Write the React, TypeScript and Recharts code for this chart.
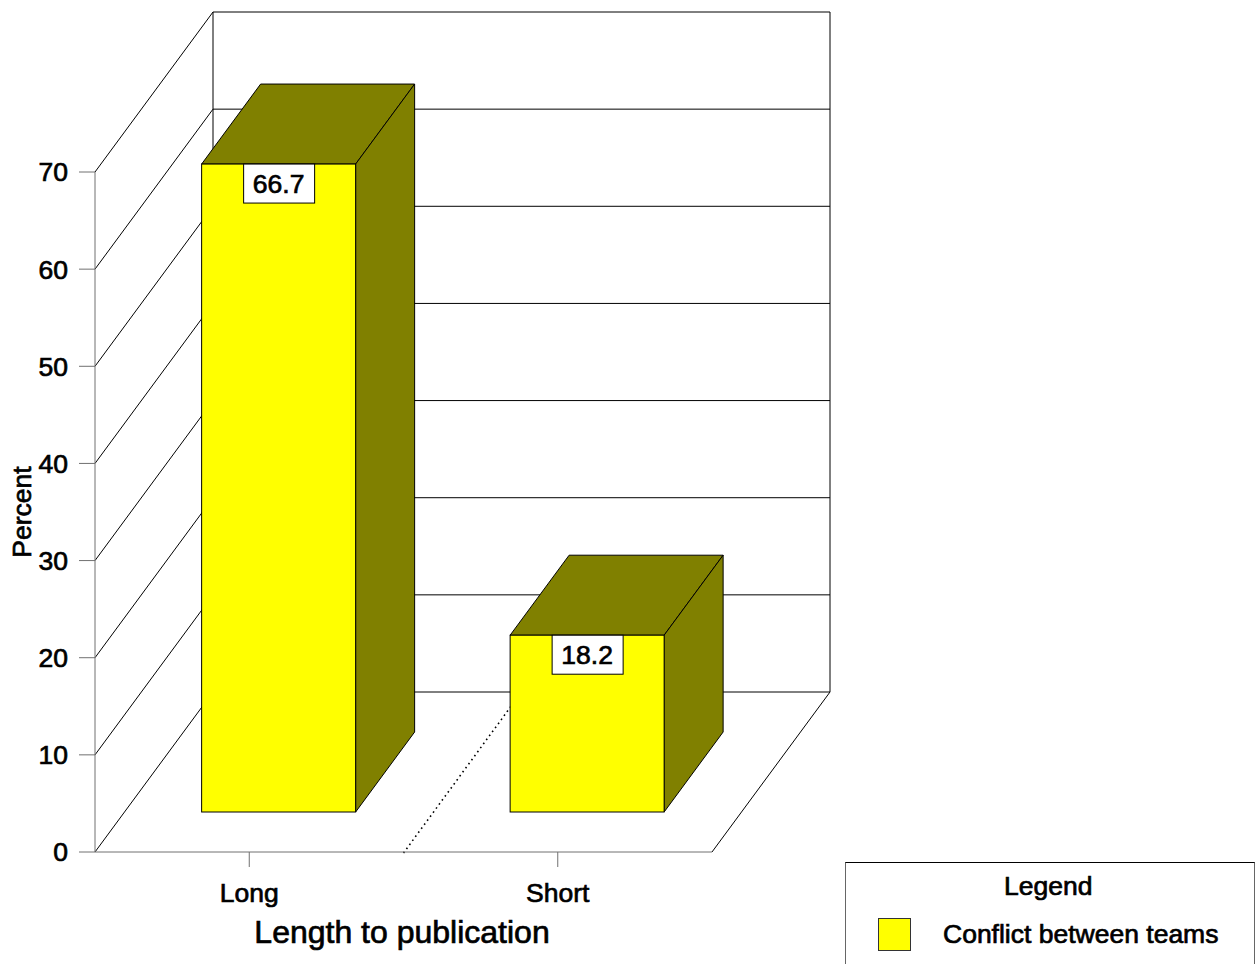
import { BarChart, Bar, XAxis, YAxis, CartesianGrid, Legend, LabelList, Label } from 'recharts'

const categories = ['Long', 'Short']
const conflictValues = [66.7, 18.2]
const yTicks = [0, 10, 20, 30, 40, 50, 60, 70]
const seriesName = 'Conflict between teams'

const chartData = categories.map((name, i) => ({ name, conflict: conflictValues[i] }))

const FONT = '"Liberation Sans", Arial, sans-serif'
// how far the floor and walls recede, in px
const DEPTH_X = 118
const DEPTH_Y = 160
const textStyle = { fill: '#000', stroke: '#000', strokeWidth: 0.7, fontFamily: FONT }

// Side wall diagonal plus the matching line on the back wall
const WallLine = ({ x1, x2, y1 }: any) => (
    <g>
        <path
            d={`M${x1},${y1} L${x1 + DEPTH_X},${y1 - DEPTH_Y} L${x2 + DEPTH_X},${y1 - DEPTH_Y}`}
            fill="none"
            stroke="#000"
            strokeWidth={1}
        />
    </g>
)

// Back wall uprights, right floor edge and the dotted category divider
const makeDepthLine = (left: number, right: number) => ({ x1, y1, y2 }: any) => {
    if (x1 === left || x1 === right) {
        return (
            <g>
                <line x1={x1 + DEPTH_X} x2={x1 + DEPTH_X} y1={y1 - DEPTH_Y} y2={y2 - DEPTH_Y} stroke="#000" />
                {x1 === right && (
                    <line x1={x1} y1={y2} x2={x1 + DEPTH_X} y2={y2 - DEPTH_Y} stroke="#000" />
                )}
            </g>
        )
    }
    return (
        <line
            x1={x1}
            y1={y2 + 1}
            x2={x1 + DEPTH_X}
            y2={y2 - DEPTH_Y}
            stroke="#000"
            strokeWidth={1.6}
            strokeDasharray="1.6 3.4"
        />
    )
}

const Box3D = ({ x, y, width, height, fill }: any) => {
    const fx = x + DEPTH_X / 4
    const fy = y - DEPTH_Y / 4
    const dx = DEPTH_X / 2
    const dy = DEPTH_Y / 2
    const shade = '#808000'
    return (
        <g stroke="#000" strokeWidth={1} strokeLinejoin="miter">
            <polygon
                points={`${fx},${fy} ${fx + dx},${fy - dy} ${fx + width + dx},${fy - dy} ${fx + width},${fy}`}
                fill={shade}
            />
            <polygon
                points={`${fx + width},${fy} ${fx + width + dx},${fy - dy} ${fx + width + dx},${fy + height - dy} ${fx + width},${fy + height}`}
                fill={shade}
            />
            <rect x={fx} y={fy} width={width} height={height} fill={fill} />
        </g>
    )
}

const ValueTag = ({ x, y, width, value }: any) => {
    const cx = x + width / 2 + DEPTH_X / 4
    const top = y - DEPTH_Y / 4
    return (
        <g>
            <rect x={cx - 35} y={top} width={71} height={39} fill="#fff" stroke="#000" strokeWidth={1} />
            <text x={cx} y={top + 29} textAnchor="middle" fontSize={26.5} {...textStyle}>
                {value}
            </text>
        </g>
    )
}

const LegendBox = ({ payload }: any) => (
    <div
        style={{
            boxSizing: 'border-box',
            width: 410,
            height: 102,
            borderTop: '1px solid #000',
            borderLeft: '1.5px solid #666',
            borderRight: '1.5px solid #666',
            fontFamily: FONT,
            color: '#000',
            WebkitTextStroke: '0.7px #000',
            fontSize: 26.5,
            position: 'relative',
        }}
    >
        <div style={{ position: 'absolute', left: 158, top: 8, lineHeight: '30px' }}>Legend</div>
        {(payload || []).map((entry: any) => (
            <div key={entry.value}>
                <div
                    style={{
                        position: 'absolute',
                        left: 32,
                        top: 55,
                        width: 33,
                        height: 33,
                        boxSizing: 'border-box',
                        background: entry.color,
                        border: '1px solid #333',
                    }}
                />
                <div style={{ position: 'absolute', left: 97, top: 56, lineHeight: '30px', whiteSpace: 'nowrap' }}>
                    {entry.value}
                </div>
            </div>
        ))}
    </div>
)

export default function App() {
    const width = 1255
    const height = 964
    const margin = { top: 172, right: 543, bottom: 0, left: 0 }
    const plotLeft = 95
    const plotRight = width - margin.right

    return (
        <div style={{ position: 'absolute', left: 0, top: 0, width, height, overflow: 'hidden', background: '#fff' }}>
            <BarChart width={width} height={height} data={chartData} margin={margin} barCategoryGap="25%">
                <CartesianGrid
                    horizontal={(props: any) => <WallLine {...props} />}
                    vertical={makeDepthLine(plotLeft, plotRight)}
                    verticalCoordinatesGenerator={({ offset }: any) => [
                        offset.left,
                        offset.left + offset.width / 2,
                        offset.left + offset.width,
                    ]}
                />
                <XAxis
                    dataKey="name"
                    height={112}
                    tickSize={15}
                    tickMargin={16}
                    stroke="#707070"
                    tick={{ ...textStyle, fontSize: 26.5 }}
                >
                    <Label
                        value="Length to publication"
                        position="insideBottom"
                        offset={21}
                        dx={-1.5}
                        fontSize={32}
                        style={textStyle}
                    />
                </XAxis>
                <YAxis
                    width={plotLeft}
                    domain={[0, 70]}
                    ticks={yTicks}
                    interval={0}
                    tickSize={16}
                    tickMargin={11}
                    stroke="#707070"
                    tick={{ ...textStyle, fontSize: 26.5 }}
                >
                    <Label
                        value="Percent"
                        angle={-90}
                        position="insideLeft"
                        offset={22}
                        fontSize={26.5}
                        style={{ ...textStyle, textAnchor: 'middle' }}
                    />
                </YAxis>
                {/* zero-height wrapper so the legend takes no room from the plot */}
                <Legend
                    content={<LegendBox />}
                    wrapperStyle={{ position: 'absolute', left: 845, top: 862, width: 410, height: 0, bottom: 'auto' }}
                />
                <Bar
                    dataKey="conflict"
                    name={seriesName}
                    fill="#ffff00"
                    shape={<Box3D />}
                    isAnimationActive={false}
                >
                    <LabelList dataKey="conflict" content={<ValueTag />} />
                </Bar>
            </BarChart>
        </div>
    )
}
